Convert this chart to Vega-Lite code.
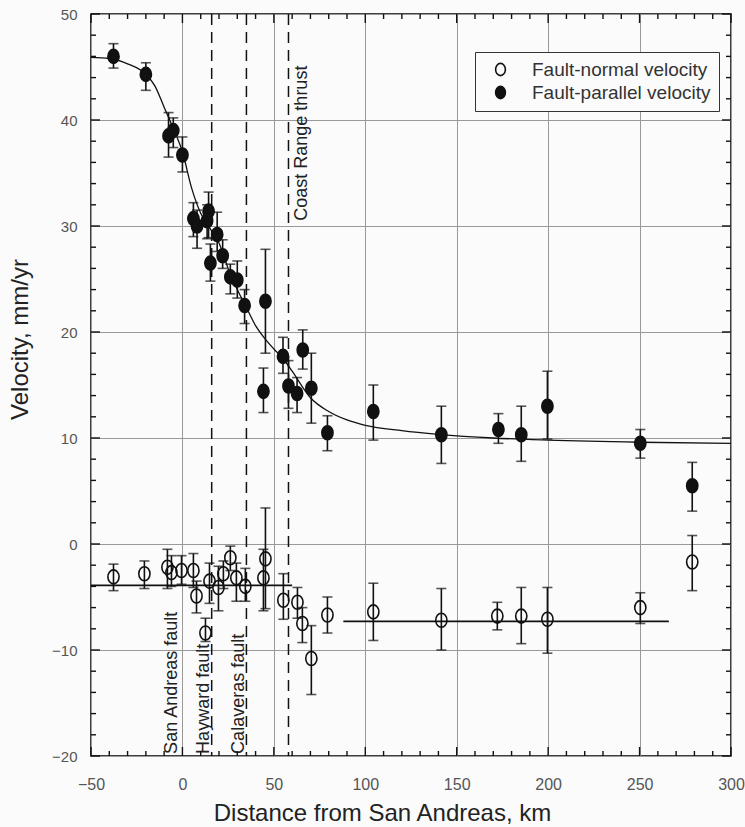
{
  "$schema": "https://vega.github.io/schema/vega-lite/v6.json",
  "width": 640,
  "height": 742,
  "autosize": {"type": "none"},
  "padding": {"left": 91, "top": 14, "right": 14, "bottom": 71},
  "background": "#fbfbfb",
  "config": {
    "view": {"stroke": "black", "strokeWidth": 1.5},
    "font": "Liberation Sans",
    "axis": {
      "domain": false,
      "labelFont": "Liberation Sans",
      "titleFont": "Liberation Sans",
      "titleFontWeight": "normal",
      "labelColor": "#555",
      "titleColor": "#222",
      "labelFontSize": 16,
      "titleFontSize": 24,
      "gridColor": "#999",
      "gridWidth": 1
    }
  },
  "datasets": {
    "points": [
      {"series": "Fault-parallel velocity", "km": -37.7, "v": 46.0, "lo": 44.9, "hi": 47.2},
      {"series": "Fault-parallel velocity", "km": -20, "v": 44.3, "lo": 42.8, "hi": 45.4},
      {"series": "Fault-parallel velocity", "km": -7.6, "v": 38.5, "lo": 36.5, "hi": 40.7},
      {"series": "Fault-parallel velocity", "km": -5, "v": 39.0, "lo": 37.4, "hi": 40.2},
      {"series": "Fault-parallel velocity", "km": 0, "v": 36.7, "lo": 35.1, "hi": 38.4},
      {"series": "Fault-parallel velocity", "km": 6, "v": 30.7, "lo": 29.0, "hi": 32.2},
      {"series": "Fault-parallel velocity", "km": 8, "v": 30.0, "lo": 27.9, "hi": 31.5},
      {"series": "Fault-parallel velocity", "km": 13.5, "v": 30.5, "lo": 28.8, "hi": 32.0},
      {"series": "Fault-parallel velocity", "km": 14.3, "v": 31.4, "lo": 28.9, "hi": 33.2},
      {"series": "Fault-parallel velocity", "km": 19, "v": 29.2, "lo": 27.6, "hi": 31.3},
      {"series": "Fault-parallel velocity", "km": 15.3, "v": 26.5, "lo": 24.8, "hi": 28.3},
      {"series": "Fault-parallel velocity", "km": 22, "v": 27.2, "lo": 26.0, "hi": 28.7},
      {"series": "Fault-parallel velocity", "km": 26.2, "v": 25.2, "lo": 23.6, "hi": 26.4},
      {"series": "Fault-parallel velocity", "km": 30, "v": 24.9, "lo": 23.2, "hi": 26.7},
      {"series": "Fault-parallel velocity", "km": 34, "v": 22.5, "lo": 20.8, "hi": 24.0},
      {"series": "Fault-parallel velocity", "km": 45.4, "v": 22.9, "lo": 18.0, "hi": 27.8},
      {"series": "Fault-parallel velocity", "km": 44.3, "v": 14.4, "lo": 12.4, "hi": 16.6},
      {"series": "Fault-parallel velocity", "km": 55, "v": 17.7, "lo": 16.1, "hi": 19.5},
      {"series": "Fault-parallel velocity", "km": 65.8, "v": 18.3, "lo": 16.5, "hi": 20.2},
      {"series": "Fault-parallel velocity", "km": 58, "v": 14.9, "lo": 12.8, "hi": 17.3},
      {"series": "Fault-parallel velocity", "km": 62.7, "v": 14.2, "lo": 12.4, "hi": 15.7},
      {"series": "Fault-parallel velocity", "km": 70.5, "v": 14.7, "lo": 11.4, "hi": 18.0},
      {"series": "Fault-parallel velocity", "km": 79.3, "v": 10.5, "lo": 8.8, "hi": 12.1},
      {"series": "Fault-parallel velocity", "km": 104.4, "v": 12.5, "lo": 9.8, "hi": 15.0},
      {"series": "Fault-parallel velocity", "km": 141.6, "v": 10.3, "lo": 7.6, "hi": 13.0},
      {"series": "Fault-parallel velocity", "km": 172.8, "v": 10.8, "lo": 9.5, "hi": 12.3},
      {"series": "Fault-parallel velocity", "km": 185.3, "v": 10.3, "lo": 7.8, "hi": 13.0},
      {"series": "Fault-parallel velocity", "km": 199.6, "v": 13.0, "lo": 9.9, "hi": 16.3},
      {"series": "Fault-parallel velocity", "km": 250.4, "v": 9.5, "lo": 8.1, "hi": 10.8},
      {"series": "Fault-parallel velocity", "km": 278.8, "v": 5.5, "lo": 3.1, "hi": 7.7},
      {"series": "Fault-normal velocity", "km": -37.7, "v": -3.1, "lo": -4.4, "hi": -1.9},
      {"series": "Fault-normal velocity", "km": -20.8, "v": -2.8, "lo": -4.2, "hi": -1.6},
      {"series": "Fault-normal velocity", "km": -8.2, "v": -2.2, "lo": -4.2, "hi": -0.5},
      {"series": "Fault-normal velocity", "km": -6, "v": -2.7, "lo": -4.0, "hi": -1.1},
      {"series": "Fault-normal velocity", "km": -0.5, "v": -2.5, "lo": -3.8, "hi": -1.1},
      {"series": "Fault-normal velocity", "km": 6, "v": -2.5, "lo": -4.1, "hi": -0.9},
      {"series": "Fault-normal velocity", "km": 7.7, "v": -4.9, "lo": -6.5, "hi": -3.5},
      {"series": "Fault-normal velocity", "km": 12.6, "v": -8.4, "lo": -9.2, "hi": -7.0},
      {"series": "Fault-normal velocity", "km": 14.8, "v": -3.5, "lo": -5.6, "hi": -1.8},
      {"series": "Fault-normal velocity", "km": 19.7, "v": -4.1, "lo": -6.3, "hi": -2.1},
      {"series": "Fault-normal velocity", "km": 22.4, "v": -2.8, "lo": -4.2, "hi": -1.6},
      {"series": "Fault-normal velocity", "km": 26.2, "v": -1.3, "lo": -2.5, "hi": -0.2},
      {"series": "Fault-normal velocity", "km": 29.5, "v": -3.2, "lo": -5.4, "hi": -1.8},
      {"series": "Fault-normal velocity", "km": 34.4, "v": -4.0, "lo": -5.4, "hi": -2.3},
      {"series": "Fault-normal velocity", "km": 45.4, "v": -1.4, "lo": -6.1, "hi": 3.4},
      {"series": "Fault-normal velocity", "km": 44.3, "v": -3.2, "lo": -6.3, "hi": -0.5},
      {"series": "Fault-normal velocity", "km": 55.2, "v": -5.3, "lo": -7.1, "hi": -2.8},
      {"series": "Fault-normal velocity", "km": 62.9, "v": -5.5, "lo": -7.0, "hi": -4.1},
      {"series": "Fault-normal velocity", "km": 65.6, "v": -7.5, "lo": -9.3, "hi": -6.0},
      {"series": "Fault-normal velocity", "km": 70.5, "v": -10.8, "lo": -14.2, "hi": -7.7},
      {"series": "Fault-normal velocity", "km": 79.3, "v": -6.7, "lo": -8.4, "hi": -5.0},
      {"series": "Fault-normal velocity", "km": 104.4, "v": -6.4, "lo": -9.1, "hi": -3.7},
      {"series": "Fault-normal velocity", "km": 141.6, "v": -7.2, "lo": -10.0, "hi": -4.2},
      {"series": "Fault-normal velocity", "km": 172.2, "v": -6.8, "lo": -8.1, "hi": -5.5},
      {"series": "Fault-normal velocity", "km": 185.3, "v": -6.8, "lo": -9.4, "hi": -4.1},
      {"series": "Fault-normal velocity", "km": 199.6, "v": -7.1, "lo": -10.3, "hi": -4.1},
      {"series": "Fault-normal velocity", "km": 250.4, "v": -6.0, "lo": -7.5, "hi": -4.6},
      {"series": "Fault-normal velocity", "km": 278.8, "v": -1.7, "lo": -4.4, "hi": 0.8}
    ],
    "curve": [
      {"km": -50, "v": 45.9}, {"km": -40, "v": 45.8}, {"km": -30, "v": 45.3},
      {"km": -20, "v": 44.3}, {"km": -15, "v": 43.2}, {"km": -10, "v": 41.2},
      {"km": -5, "v": 39.2}, {"km": 0, "v": 37.0}, {"km": 5, "v": 33.6},
      {"km": 10, "v": 31.2}, {"km": 15, "v": 29.8}, {"km": 20, "v": 28.4},
      {"km": 25, "v": 26.0}, {"km": 30, "v": 24.0}, {"km": 35, "v": 22.3},
      {"km": 40, "v": 20.6}, {"km": 45, "v": 19.4}, {"km": 50, "v": 18.4},
      {"km": 55, "v": 17.5}, {"km": 60, "v": 16.3}, {"km": 70, "v": 13.8},
      {"km": 80, "v": 12.5}, {"km": 90, "v": 11.7}, {"km": 100, "v": 11.2},
      {"km": 120, "v": 10.7}, {"km": 140, "v": 10.35}, {"km": 170, "v": 10.0},
      {"km": 200, "v": 9.8}, {"km": 250, "v": 9.6}, {"km": 300, "v": 9.5}
    ],
    "segments": [
      {"x1": -50, "x2": 60, "v": -3.9},
      {"x1": 88, "x2": 266, "v": -7.3}
    ],
    "faults": [{"km": 16}, {"km": 35}, {"km": 58}],
    "labels": [
      {"label": "San Andreas fault", "km": -5.5, "v": -19.8},
      {"label": "Hayward fault", "km": 12, "v": -19.8},
      {"label": "Calaveras fault", "km": 31.2, "v": -19.8},
      {"label": "Coast Range thrust", "km": 65.6, "v": 30.5}
    ],
    "xt": [
      {"km": -50, "major": true}, {"km": -40, "major": false}, {"km": -30, "major": false}, {"km": -20, "major": false}, {"km": -10, "major": false},
      {"km": 0, "major": true}, {"km": 10, "major": false}, {"km": 20, "major": false}, {"km": 30, "major": false}, {"km": 40, "major": false},
      {"km": 50, "major": true}, {"km": 60, "major": false}, {"km": 70, "major": false}, {"km": 80, "major": false}, {"km": 90, "major": false},
      {"km": 100, "major": true}, {"km": 110, "major": false}, {"km": 120, "major": false}, {"km": 130, "major": false}, {"km": 140, "major": false},
      {"km": 150, "major": true}, {"km": 160, "major": false}, {"km": 170, "major": false}, {"km": 180, "major": false}, {"km": 190, "major": false},
      {"km": 200, "major": true}, {"km": 210, "major": false}, {"km": 220, "major": false}, {"km": 230, "major": false}, {"km": 240, "major": false},
      {"km": 250, "major": true}, {"km": 260, "major": false}, {"km": 270, "major": false}, {"km": 280, "major": false}, {"km": 290, "major": false},
      {"km": 300, "major": true}
    ],
    "yt": [
      {"v": -20, "major": true}, {"v": -18, "major": false}, {"v": -16, "major": false}, {"v": -14, "major": false}, {"v": -12, "major": false},
      {"v": -10, "major": true}, {"v": -8, "major": false}, {"v": -6, "major": false}, {"v": -4, "major": false}, {"v": -2, "major": false},
      {"v": 0, "major": true}, {"v": 2, "major": false}, {"v": 4, "major": false}, {"v": 6, "major": false}, {"v": 8, "major": false},
      {"v": 10, "major": true}, {"v": 12, "major": false}, {"v": 14, "major": false}, {"v": 16, "major": false}, {"v": 18, "major": false},
      {"v": 20, "major": true}, {"v": 22, "major": false}, {"v": 24, "major": false}, {"v": 26, "major": false}, {"v": 28, "major": false},
      {"v": 30, "major": true}, {"v": 32, "major": false}, {"v": 34, "major": false}, {"v": 36, "major": false}, {"v": 38, "major": false},
      {"v": 40, "major": true}, {"v": 42, "major": false}, {"v": 44, "major": false}, {"v": 46, "major": false}, {"v": 48, "major": false},
      {"v": 50, "major": true}
    ]
  },
  "resolve": {"axis": {"x": "independent", "y": "independent"}},
  "layer": [
    {
      "data": {"name": "faults"},
      "mark": {"type": "rule", "strokeDash": [11, 7], "strokeWidth": 1.5, "color": "#111"},
      "encoding": {
        "x": {"field": "km", "type": "quantitative", "scale": {"domain": [-50, 300], "nice": false, "zero": false}, "axis": null}
      }
    },
    {
      "data": {"name": "curve"},
      "mark": {"type": "line", "interpolate": "monotone", "color": "#111", "strokeWidth": 1.3},
      "encoding": {
        "x": {"field": "km", "type": "quantitative", "scale": {"domain": [-50, 300], "nice": false, "zero": false},
          "axis": {"orient": "bottom", "values": [-50, 0, 50, 100, 150, 200, 250, 300], "ticks": false, "tickSize": 0, "labelPadding": 20, "labelFlush": false, "labelOverlap": false, "grid": true, "title": "Distance from San Andreas, km", "titleX": 291, "titleY": 64, "titleBaseline": "alphabetic", "titleAlign": "center", "titleAnchor": null}},
        "y": {"field": "v", "type": "quantitative", "scale": {"domain": [-20, 50], "nice": false, "zero": false},
          "axis": {"orient": "left", "values": [-20, -10, 0, 10, 20, 30, 40, 50], "ticks": false, "tickSize": 0, "labelPadding": 14, "labelFontSize": 15, "labelOverlap": false, "labelFlush": false, "grid": true, "title": "Velocity, mm/yr", "titleX": -71, "titleY": 325, "titleAngle": 270, "titleBaseline": "middle", "titleAlign": "center", "titleAnchor": null}}
      }
    },
    {
      "data": {"name": "segments"},
      "mark": {"type": "rule", "color": "#111", "strokeWidth": 1.6},
      "encoding": {
        "x": {"field": "x1", "type": "quantitative", "scale": {"domain": [-50, 300], "nice": false, "zero": false}, "axis": null},
        "x2": {"field": "x2"},
        "y": {"field": "v", "type": "quantitative", "scale": {"domain": [-20, 50], "nice": false, "zero": false}, "axis": null}
      }
    },
    {
      "data": {"name": "points"},
      "mark": {"type": "errorbar", "ticks": {"size": 10, "thickness": 1.6, "color": "#111"}, "rule": {"strokeWidth": 1.6, "color": "#111"}},
      "encoding": {
        "x": {"field": "km", "type": "quantitative", "scale": {"domain": [-50, 300], "nice": false, "zero": false}, "axis": null},
        "y": {"field": "lo", "type": "quantitative", "scale": {"domain": [-20, 50], "nice": false, "zero": false}, "axis": null},
        "y2": {"field": "hi"}
      }
    },
    {
      "data": {"name": "points"},
      "mark": {"type": "point", "shape": "M0,-1A0.8,1 0 1,1 0,1A0.8,1 0 1,1 0,-1Z", "size": 196, "stroke": "#111", "strokeWidth": 1.6, "opacity": 1},
      "encoding": {
        "x": {"field": "km", "type": "quantitative", "scale": {"domain": [-50, 300], "nice": false, "zero": false}, "axis": null},
        "y": {"field": "v", "type": "quantitative", "scale": {"domain": [-20, 50], "nice": false, "zero": false}, "axis": null},
        "fill": {"field": "series", "type": "nominal",
          "scale": {"domain": ["Fault-normal velocity", "Fault-parallel velocity"], "range": ["transparent", "#111"]},
          "legend": {"orient": "none", "legendX": 384, "legendY": 38, "title": null, "strokeColor": "#333", "fillColor": "#fbfbfb", "padding": 8,
            "labelFont": "Liberation Sans", "labelFontSize": 19, "labelColor": "#333", "labelOffset": 22, "labelLimit": 400, "rowPadding": 3,
            "symbolType": "M0,-1A0.8,1 0 1,1 0,1A0.8,1 0 1,1 0,-1Z", "symbolSize": 150, "symbolStrokeColor": "#111", "symbolStrokeWidth": 1.6, "symbolOffset": 8, "symbolOpacity": 1}}
      }
    },
    {
      "data": {"name": "labels"},
      "mark": {"type": "text", "angle": 270, "align": "left", "baseline": "middle", "fontSize": 18, "font": "Liberation Sans", "color": "#222"},
      "encoding": {
        "x": {"field": "km", "type": "quantitative", "scale": {"domain": [-50, 300], "nice": false, "zero": false}, "axis": null},
        "y": {"field": "v", "type": "quantitative", "scale": {"domain": [-20, 50], "nice": false, "zero": false}, "axis": null},
        "text": {"field": "label"}
      }
    },
    {
      "data": {"name": "xt"},
      "transform": [{"filter": "datum.major"}],
      "mark": {"type": "tick", "orient": "vertical", "size": 9, "thickness": 1.4, "color": "#111", "opacity": 1, "yOffset": -4.5},
      "encoding": {
        "x": {"field": "km", "type": "quantitative", "scale": {"domain": [-50, 300], "nice": false, "zero": false}, "axis": null},
        "y": {"datum": -20, "type": "quantitative", "scale": {"domain": [-20, 50], "nice": false, "zero": false}, "axis": null}
      }
    },
    {
      "data": {"name": "xt"},
      "transform": [{"filter": "!datum.major"}],
      "mark": {"type": "tick", "orient": "vertical", "size": 5, "thickness": 1.4, "color": "#111", "opacity": 1, "yOffset": -2.5},
      "encoding": {
        "x": {"field": "km", "type": "quantitative", "scale": {"domain": [-50, 300], "nice": false, "zero": false}, "axis": null},
        "y": {"datum": -20, "type": "quantitative", "scale": {"domain": [-20, 50], "nice": false, "zero": false}, "axis": null}
      }
    },
    {
      "data": {"name": "xt"},
      "transform": [{"filter": "datum.major"}],
      "mark": {"type": "tick", "orient": "vertical", "size": 9, "thickness": 1.4, "color": "#111", "opacity": 1, "yOffset": 4.5},
      "encoding": {
        "x": {"field": "km", "type": "quantitative", "scale": {"domain": [-50, 300], "nice": false, "zero": false}, "axis": null},
        "y": {"datum": 50, "type": "quantitative", "scale": {"domain": [-20, 50], "nice": false, "zero": false}, "axis": null}
      }
    },
    {
      "data": {"name": "xt"},
      "transform": [{"filter": "!datum.major"}],
      "mark": {"type": "tick", "orient": "vertical", "size": 5, "thickness": 1.4, "color": "#111", "opacity": 1, "yOffset": 2.5},
      "encoding": {
        "x": {"field": "km", "type": "quantitative", "scale": {"domain": [-50, 300], "nice": false, "zero": false}, "axis": null},
        "y": {"datum": 50, "type": "quantitative", "scale": {"domain": [-20, 50], "nice": false, "zero": false}, "axis": null}
      }
    },
    {
      "data": {"name": "yt"},
      "transform": [{"filter": "datum.major"}],
      "mark": {"type": "tick", "orient": "horizontal", "size": 9, "thickness": 1.4, "color": "#111", "opacity": 1, "xOffset": 4.5},
      "encoding": {
        "x": {"datum": -50, "type": "quantitative", "scale": {"domain": [-50, 300], "nice": false, "zero": false}, "axis": null},
        "y": {"field": "v", "type": "quantitative", "scale": {"domain": [-20, 50], "nice": false, "zero": false}, "axis": null}
      }
    },
    {
      "data": {"name": "yt"},
      "transform": [{"filter": "!datum.major"}],
      "mark": {"type": "tick", "orient": "horizontal", "size": 5, "thickness": 1.4, "color": "#111", "opacity": 1, "xOffset": 2.5},
      "encoding": {
        "x": {"datum": -50, "type": "quantitative", "scale": {"domain": [-50, 300], "nice": false, "zero": false}, "axis": null},
        "y": {"field": "v", "type": "quantitative", "scale": {"domain": [-20, 50], "nice": false, "zero": false}, "axis": null}
      }
    },
    {
      "data": {"name": "yt"},
      "transform": [{"filter": "datum.major"}],
      "mark": {"type": "tick", "orient": "horizontal", "size": 9, "thickness": 1.4, "color": "#111", "opacity": 1, "xOffset": -4.5},
      "encoding": {
        "x": {"datum": 300, "type": "quantitative", "scale": {"domain": [-50, 300], "nice": false, "zero": false}, "axis": null},
        "y": {"field": "v", "type": "quantitative", "scale": {"domain": [-20, 50], "nice": false, "zero": false}, "axis": null}
      }
    },
    {
      "data": {"name": "yt"},
      "transform": [{"filter": "!datum.major"}],
      "mark": {"type": "tick", "orient": "horizontal", "size": 5, "thickness": 1.4, "color": "#111", "opacity": 1, "xOffset": -2.5},
      "encoding": {
        "x": {"datum": 300, "type": "quantitative", "scale": {"domain": [-50, 300], "nice": false, "zero": false}, "axis": null},
        "y": {"field": "v", "type": "quantitative", "scale": {"domain": [-20, 50], "nice": false, "zero": false}, "axis": null}
      }
    }
  ]
}
